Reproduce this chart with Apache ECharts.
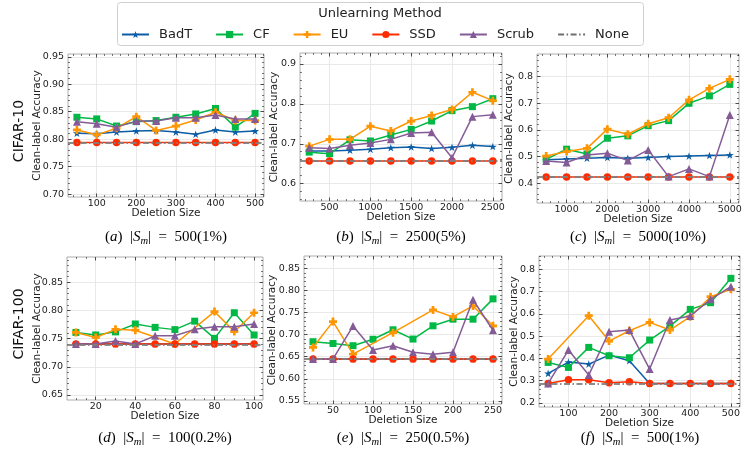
<!DOCTYPE html>
<html><head><meta charset="utf-8">
<script src="https://cdn.jsdelivr.net/npm/echarts@6/dist/echarts.min.js"></script>
<style>html,body{margin:0;padding:0;background:#fff}#c{width:747px;height:461px}</style>
</head><body><div id="c"></div>
<script>
const methods = ['BadT', 'CF', 'EU', 'SSD', 'Scrub', 'None'];
const legendTitle = 'Unlearning Method';
const rowLabels = ['CIFAR-10', 'CIFAR-100'];
const xName = 'Deletion Size';
const yName = 'Clean-label Accuracy';

// (a) CIFAR-10, |Sm| = 500 (1%)
const xA = [50, 100, 150, 200, 250, 300, 350, 400, 450, 500];
const badtA = [0.811, 0.810, 0.813, 0.815, 0.816, 0.813, 0.809, 0.817, 0.813, 0.815];
const cfA = [0.840, 0.837, 0.824, 0.832, 0.834, 0.840, 0.846, 0.856, 0.822, 0.847];
const euA = [0.817, 0.808, 0.820, 0.841, 0.816, 0.824, 0.835, 0.849, 0.834, 0.834];
const ssdA = [0.794, 0.794, 0.794, 0.794, 0.794, 0.794, 0.794, 0.794, 0.794, 0.794];
const scrubA = [0.832, 0.828, 0.822, 0.833, 0.833, 0.839, 0.839, 0.844, 0.837, 0.837];
const noneA = 0.794;
const xTicksA = [100, 200, 300, 400, 500];
const yTicksA = [0.70, 0.75, 0.80, 0.85, 0.90, 0.95];

// (b) CIFAR-10, |Sm| = 2500 (5%)
const xB = [250, 500, 750, 1000, 1250, 1500, 1750, 2000, 2250, 2500];
const badtB = [0.682, 0.682, 0.684, 0.686, 0.690, 0.692, 0.688, 0.691, 0.696, 0.693];
const cfB = [0.679, 0.675, 0.710, 0.707, 0.722, 0.736, 0.757, 0.783, 0.793, 0.813];
const euB = [0.694, 0.711, 0.711, 0.744, 0.732, 0.757, 0.771, 0.786, 0.829, 0.808];
const ssdB = [0.657, 0.657, 0.657, 0.657, 0.657, 0.657, 0.657, 0.657, 0.657, 0.657];
const scrubB = [0.690, 0.688, 0.696, 0.702, 0.711, 0.727, 0.729, 0.665, 0.768, 0.773];
const noneB = 0.657;
const xTicksB = [500, 1000, 1500, 2000, 2500];
const yTicksB = [0.6, 0.7, 0.8, 0.9];

// (c) CIFAR-10, |Sm| = 5000 (10%)
const xC = [500, 1000, 1500, 2000, 2500, 3000, 3500, 4000, 4500, 5000];
const badtC = [0.488, 0.491, 0.494, 0.497, 0.494, 0.497, 0.500, 0.502, 0.504, 0.506];
const cfC = [0.490, 0.528, 0.510, 0.569, 0.578, 0.616, 0.635, 0.700, 0.728, 0.771];
const euC = [0.502, 0.519, 0.531, 0.603, 0.584, 0.623, 0.646, 0.713, 0.756, 0.790];
const ssdC = [0.424, 0.424, 0.424, 0.424, 0.424, 0.424, 0.424, 0.424, 0.424, 0.424];
const scrubC = [0.484, 0.478, 0.506, 0.513, 0.485, 0.525, 0.425, 0.454, 0.425, 0.656];
const noneC = 0.424;
const xTicksC = [1000, 2000, 3000, 4000, 5000];
const yTicksC = [0.4, 0.5, 0.6, 0.7, 0.8];

// (d) CIFAR-100, |Sm| = 100 (0.2%)
const xD = [10, 20, 30, 40, 50, 60, 70, 80, 90, 100];
const badtD = [0.7405, 0.7405, 0.7405, 0.7405, 0.7405, 0.7405, 0.7405, 0.7405, 0.7405, 0.7405];
const cfD = [0.761, 0.7565, 0.762, 0.776, 0.770, 0.766, 0.781, 0.7505, 0.796, 0.7565];
const euD = [0.761, 0.752, 0.7665, 0.765, null, 0.7405, null, 0.798, 0.7625, 0.796];
const ssdD = [0.7405, 0.7405, 0.7405, 0.7405, 0.7405, 0.7405, 0.7405, 0.7405, 0.7405, 0.7405];
const scrubD = [0.7405, 0.7405, 0.746, 0.7405, 0.755, 0.755, 0.7665, 0.771, 0.771, 0.776];
const noneD = 0.7395;
const xTicksD = [20, 40, 60, 80, 100];
const yTicksD = [0.65, 0.70, 0.75, 0.80, 0.85];

// (e) CIFAR-100, |Sm| = 250 (0.5%)
const xE = [25, 50, 75, 100, 125, 150, 175, 200, 225, 250];
const badtE = [0.645, 0.645, 0.645, 0.645, 0.645, 0.645, 0.645, 0.645, 0.645, 0.645];
const cfE = [0.684, 0.680, 0.675, 0.6895, 0.711, 0.690, 0.720, 0.735, 0.735, 0.781];
const euE = [0.671, 0.7295, 0.656, null, 0.7045, null, 0.756, 0.740, 0.765, 0.720];
const ssdE = [0.645, 0.645, 0.645, 0.645, 0.645, 0.645, 0.645, 0.645, 0.645, 0.645];
const scrubE = [0.645, 0.645, 0.7195, 0.665, 0.675, 0.660, 0.6555, 0.660, 0.779, 0.710];
const noneE = 0.645;
const xTicksE = [50, 100, 150, 200, 250];
const yTicksE = [0.55, 0.60, 0.65, 0.70, 0.75, 0.80, 0.85];

// (f) CIFAR-100, |Sm| = 500 (1%)
const xF = [50, 100, 150, 200, 250, 300, 350, 400, 450, 500];
const badtF = [0.332, 0.383, 0.374, 0.4145, 0.389, 0.287, 0.287, 0.287, 0.287, 0.287];
const cfF = [0.3815, 0.359, 0.449, 0.4115, 0.4025, 0.482, 0.545, 0.620, 0.650, 0.7595];
const euF = [0.3965, null, 0.5915, 0.4775, 0.524, 0.5615, 0.527, 0.587, 0.677, 0.710];
const ssdF = [0.287, 0.3035, 0.3035, 0.290, 0.2945, 0.287, 0.287, 0.287, 0.287, 0.287];
const scrubF = [0.287, 0.437, 0.3245, 0.5195, 0.527, 0.3515, 0.572, 0.590, 0.665, 0.722];
const noneF = 0.285;
const xTicksF = [100, 200, 300, 400, 500];
const yTicksF = [0.2, 0.3, 0.4, 0.5, 0.6, 0.7, 0.8];

const subLetters = ['a', 'b', 'c', 'd', 'e', 'f'];
const subSizes = ['500(1%)', '2500(5%)', '5000(10%)', '100(0.2%)', '250(0.5%)', '500(1%)'];

const panelData = [
  {x: xA, ys: [badtA, cfA, euA, ssdA, scrubA], none: noneA, xt: xTicksA, yt: yTicksA, dec: 2},
  {x: xB, ys: [badtB, cfB, euB, ssdB, scrubB], none: noneB, xt: xTicksB, yt: yTicksB, dec: 1},
  {x: xC, ys: [badtC, cfC, euC, ssdC, scrubC], none: noneC, xt: xTicksC, yt: yTicksC, dec: 1},
  {x: xD, ys: [badtD, cfD, euD, ssdD, scrubD], none: noneD, xt: xTicksD, yt: yTicksD, dec: 2},
  {x: xE, ys: [badtE, cfE, euE, ssdE, scrubE], none: noneE, xt: xTicksE, yt: yTicksE, dec: 2},
  {x: xF, ys: [badtF, cfF, euF, ssdF, scrubF], none: noneF, xt: xTicksF, yt: yTicksF, dec: 1}
];

// layout (positions / ranges / minor tick divisions)
const layout = [
  {left: 68, top: 54, width: 196, height: 143, xr: [27.5, 522.5], yr: [0.695, 0.955], yGap: 25, sx: 166, sy: 237, xDiv: 5, yDiv: 5},
  {left: 300, top: 53, width: 202, height: 148, xr: [137.5, 2612.5], yr: [0.5565, 0.9275], yGap: 20, sx: 401, sy: 237, xDiv: 5, yDiv: 5},
  {left: 537, top: 54, width: 202, height: 149, xr: [275, 5225], yr: [0.326, 0.885], yGap: 22, sx: 638, sy: 237, xDiv: 5, yDiv: 5},
  {left: 67, top: 257, width: 196, height: 143, xr: [5.5, 104.5], yr: [0.641, 0.895], yGap: 24, sx: 165, sy: 438, xDiv: 4, yDiv: 5},
  {left: 304, top: 256, width: 198, height: 148, xr: [13.75, 261.25], yr: [0.543, 0.878], yGap: 26, sx: 403, sy: 438, xDiv: 5, yDiv: 5},
  {left: 539, top: 256, width: 201, height: 151, xr: [27.5, 522.5], yr: [0.181, 0.86], yGap: 19, sx: 640, sy: 438, xDiv: 5, yDiv: 5}
];

const colors = ['#0C5DA5', '#00B945', '#FF9500', '#FF2C00', '#845B97', '#808080'];
const STAR = 'path://M50,0 L61.2,34.5 L97.6,34.5 L68.2,55.9 L79.4,90.5 L50,69.1 L20.6,90.5 L31.8,55.9 L2.4,34.5 L38.8,34.5 Z';
const PLUS = 'path://M33,0 H67 V33 H100 V67 H67 V100 H33 V67 H0 V33 H33 Z';
const symbols = [STAR, 'rect', PLUS, 'circle', 'triangle'];
const symSizes = [8, 7, 8, 7.5, 8];
const FONT = 'DejaVu Sans';
const DASHDOT = [6, 2.5, 1.5, 2.5];

// minor tick positions between/around the major ticks (axis decoration only)
function minorTicks(major, range, div) {
  const step = (major[1] - major[0]) / div;
  const out = [];
  const k0 = Math.ceil((range[0] - major[0]) / step - 1e-9);
  const k1 = Math.floor((range[1] - major[0]) / step + 1e-9);
  for (let k = k0; k <= k1; k++) {
    if (((k % div) + div) % div === 0) continue;
    out.push(+(major[0] + k * step).toFixed(6));
  }
  return out;
}

const grids = [], xAxes = [], yAxes = [], series = [], graphics = [];
const tickStyle = {inside: true, length: 3.5, lineStyle: {color: '#222', width: 0.8}};
const minorStyle = {inside: true, length: 2, lineStyle: {color: '#222', width: 0.6}};

layout.forEach((L, i) => {
  const P = panelData[i];
  const xi = xAxes.length, yi = yAxes.length;
  grids.push({left: L.left, top: L.top, width: L.width, height: L.height, show: true,
    borderColor: '#9a9a9a', borderWidth: 0.8, backgroundColor: 'transparent', containLabel: false,
    outerBoundsMode: 'none'});
  const xBase = {type: 'value', gridIndex: i, min: L.xr[0], max: L.xr[1], axisLine: {show: false}};
  const yBase = {type: 'value', gridIndex: i, min: L.yr[0], max: L.yr[1], axisLine: {show: false}};
  const xMinor = minorTicks(P.xt, L.xr, L.xDiv);
  const yMinor = minorTicks(P.yt, L.yr, L.yDiv);

  xAxes.push(Object.assign({}, xBase, {position: 'bottom',
    name: xName, nameLocation: 'middle', nameGap: 11, nameMoveOverlap: false,
    nameTextStyle: {fontFamily: FONT, fontSize: 10.5, color: '#222'},
    axisTick: Object.assign({customValues: P.xt}, tickStyle),
    axisLabel: {customValues: P.xt, margin: 2, fontFamily: FONT, fontSize: 9.5, color: '#222',
      formatter: v => String(v)},
    splitLine: {show: true, lineStyle: {color: '#e3e3e3', width: 0.8}}}));
  ['top', 'bottom', 'top'].forEach((pos, q) => {
    xAxes.push(Object.assign({}, xBase, {position: pos,
      axisTick: Object.assign({customValues: q === 0 ? P.xt : xMinor}, q === 0 ? tickStyle : minorStyle),
      axisLabel: {show: false}, splitLine: {show: false}}));
  });

  yAxes.push(Object.assign({}, yBase, {position: 'left',
    name: yName, nameLocation: 'middle', nameGap: L.yGap, nameRotate: 90, nameMoveOverlap: false,
    nameTextStyle: {fontFamily: FONT, fontSize: 10.5, color: '#222'},
    axisTick: Object.assign({customValues: P.yt}, tickStyle),
    axisLabel: {customValues: P.yt, margin: 4, fontFamily: FONT, fontSize: 9.5, color: '#222',
      formatter: v => Number(v).toFixed(P.dec)},
    splitLine: {show: true, lineStyle: {color: '#e3e3e3', width: 0.8}}}));
  ['right', 'left', 'right'].forEach((pos, q) => {
    yAxes.push(Object.assign({}, yBase, {position: pos,
      axisTick: Object.assign({customValues: q === 0 ? P.yt : yMinor}, q === 0 ? tickStyle : minorStyle),
      axisLabel: {show: false}, splitLine: {show: false}}));
  });

  P.ys.forEach((ys, k) => {
    series.push({
      name: methods[k], type: 'line', xAxisIndex: xi, yAxisIndex: yi,
      data: P.x.map((xv, j) => [xv, ys[j]]),
      connectNulls: true,
      symbol: symbols[k], symbolSize: symSizes[k], symbolKeepAspect: true,
      showAllSymbol: true,
      lineStyle: {color: colors[k], width: 1.5},
      itemStyle: {color: colors[k]},
      emphasis: {disabled: true}, z: 2 + k
    });
  });
  series.push({
    name: 'None', type: 'line', xAxisIndex: xi, yAxisIndex: yi, data: [],
    symbol: 'none', lineStyle: {color: '#6e6e6e', width: 1.3, type: DASHDOT},
    itemStyle: {color: colors[5]}, z: 8,
    markLine: {silent: true, symbol: 'none', precision: 5, label: {show: false}, z: 12,
      lineStyle: {color: colors[5], width: 2, type: DASHDOT, opacity: 0.9},
      data: [{yAxis: P.none}]}
  });

  graphics.push({type: 'text', x: L.sx, y: L.sy, z: 100,
    style: {text: '{r|(}{i|' + subLetters[i] + '}{r|)  |}{i|S}{s|m}{r||  =  ' + subSizes[i] + '}',
      textAlign: 'center', textVerticalAlign: 'middle',
      rich: {
        r: {fontFamily: 'Liberation Serif', fontSize: 15, color: '#111'},
        i: {fontFamily: 'Liberation Serif', fontSize: 15, fontStyle: 'italic', color: '#111'},
        s: {fontFamily: 'Liberation Serif', fontSize: 10.5, fontStyle: 'italic', color: '#111', padding: [8, 0, 0, 0]}
      }}});
});

graphics.push({type: 'rect', shape: {x: 117.5, y: 2.5, width: 526, height: 43, r: 3},
  style: {fill: '#fff', stroke: '#cfcfcf', lineWidth: 1}, z: 0});
graphics.push({type: 'text', x: 380, y: 14, style: {text: legendTitle, textAlign: 'center', textVerticalAlign: 'middle',
  fontFamily: FONT, fontSize: 13, fill: '#222'}, z: 10});
graphics.push({type: 'text', x: 19, y: 131, rotation: Math.PI / 2, style: {text: rowLabels[0], textAlign: 'center',
  textVerticalAlign: 'middle', fontFamily: FONT, fontSize: 14, fill: '#111'}});
graphics.push({type: 'text', x: 19, y: 324, rotation: Math.PI / 2, style: {text: rowLabels[1], textAlign: 'center',
  textVerticalAlign: 'middle', fontFamily: FONT, fontSize: 14, fill: '#111'}});

const legendData = methods.map(m => m === 'None'
  ? {name: m, itemStyle: {color: 'rgba(0,0,0,0)', borderWidth: 0}}
  : {name: m});

const chart = echarts.init(document.getElementById('c'), null, {renderer: 'canvas'});
chart.setOption({
  animation: false,
  backgroundColor: '#fff',
  grid: grids, xAxis: xAxes, yAxis: yAxes, series: series, graphic: graphics,
  legend: {data: legendData, left: 116, top: 23, itemWidth: 27, itemHeight: 9, itemGap: 23,
    textStyle: {fontFamily: FONT, fontSize: 13, color: '#222', padding: [0, 0, 0, 5]}, z: 20}
});
</script></body></html>
